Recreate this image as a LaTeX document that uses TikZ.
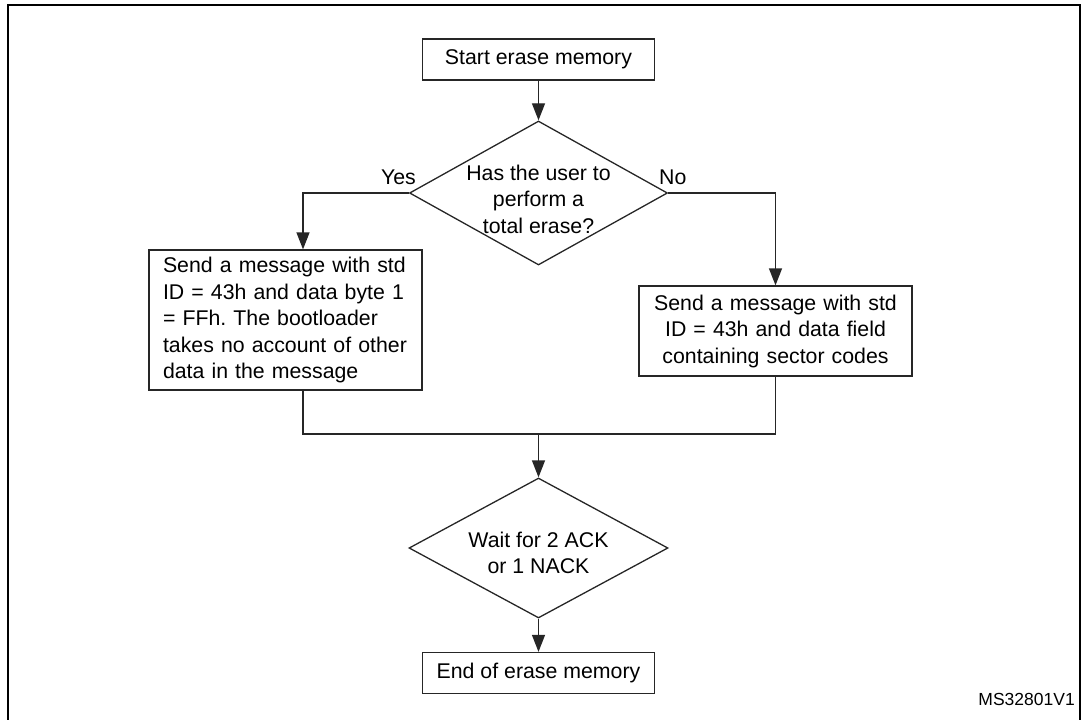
\documentclass[tikz,border=0pt]{standalone}
\usepackage{fontspec}
\setmainfont{Liberation Sans}
\usetikzlibrary{shapes.geometric,arrows.meta}
\frenchspacing
\begin{document}
\begin{tikzpicture}[x=1pt,y=-1pt,
  every node/.style={font=\fontsize{21.3}{26.5}\selectfont},
  flowline/.style={line width=1.3pt, draw=black!85},
  arr/.style={flowline, -{Triangle[width=13pt,length=17pt]}},
  stepbox/.style={draw=black!85, line width=1.3pt, rectangle, inner sep=0pt},
  textbox/.style={draw=black!85, line width=1.3pt, rectangle, inner xsep=14pt, inner ysep=0pt,
                  text width=245pt, minimum height=#1},
  decision/.style={draw=black!85, line width=1.3pt, diamond, inner sep=0pt},
  lbl/.style={inner sep=0pt, align=center}
]
\useasboundingbox (0,0) rectangle (1082,720);

% outer frame
\draw[line width=2pt] (7.5,720) -- (7.5,5) -- (1080,5) -- (1080,720);

% start / end
\node[stepbox, minimum width=232pt, minimum height=41pt] (start) at (538.5,59.5) {Start erase memory};
\node[stepbox, minimum width=232pt, minimum height=41pt] (end) at (538.5,673) {End of erase memory};

% first decision
\node[decision, minimum width=258pt, minimum height=144pt] (d1) at (538.5,193) {};
\node[lbl] (d1t) at (538.5,199) {Has the user to\\perform a\\total erase?};
\node[lbl, anchor=base east] (yes) at (416,184) {Yes};
\node[lbl, anchor=base west] (no) at (659,184) {No};

% branch boxes
\node[textbox=140pt, align=left] (lbox) at (285.5,320)
  {Send a message with std\\ID = 43h and data byte 1\\= FFh. The bootloader\\takes no account of other\\data in the message};
\node[textbox=90pt, align=center] (rbox) at (775.5,331)
  {Send a message with std\\ID = 43h and data field\\containing sector codes};

% second decision
\node[decision, minimum width=259pt, minimum height=140pt] (d2) at (538.5,548) {};
\node[lbl] (d2t) at (538.5,553) {Wait for 2 ACK\\or 1 NACK};

% figure reference
\node[lbl, anchor=base east, font=\fontsize{17.5}{20}\selectfont] (ref) at (1075,705) {MS32801V1};

% connectors
\coordinate (merge) at (538.5,434);
\draw[arr] (start) -- (d1);
\draw[arr] (d1.west) -| ([xshift=17.5pt]lbox.north);
\draw[arr] (d1.east) -| (rbox.north);
\draw[flowline] ([xshift=17.5pt]lbox.south) |- (merge);
\draw[flowline] (rbox.south) |- (merge);
\draw[arr] (merge) -- (d2);
\draw[arr] (d2) -- (end);
\end{tikzpicture}
\end{document}
